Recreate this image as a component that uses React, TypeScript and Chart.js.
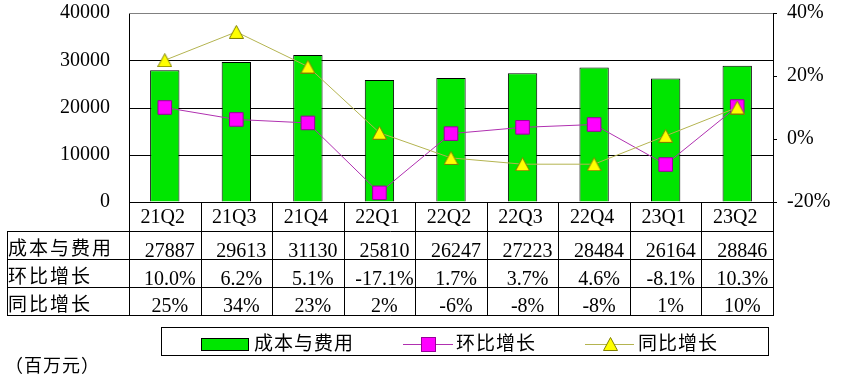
import React, { useEffect, useRef } from "react";
import { Chart, registerables } from "chart.js";

Chart.register(...registerables);

const categories = ["21Q2", "21Q3", "21Q4", "22Q1", "22Q2", "22Q3", "22Q4", "23Q1", "23Q2"];
const costValues = [27887, 29613, 31130, 25810, 26247, 27223, 28484, 26164, 28846];
const qoqValues = [10.0, 6.2, 5.1, -17.1, 1.7, 3.7, 4.6, -8.1, 10.3];
const yoyValues = [25, 34, 23, 2, -6, -8, -8, 1, 10];
const seriesNames = ["成本与费用", "环比增长", "同比增长"];
const costLabels = costValues.map((v) => String(v));
const qoqLabels = qoqValues.map((v) => v.toFixed(1) + "%");
const yoyLabels = yoyValues.map((v) => v + "%");
const unitLabel = "（百万元）";
const leftMin = 0;
const leftMax = 40000;
const leftStep = 10000;
const rightMin = -20;
const rightMax = 40;
const rightStep = 20;

const NUM_FONT = "'Liberation Serif', 'DejaVu Serif', serif";
const CJK_FONT = "'Noto Sans CJK SC', sans-serif";

function makeTriangle(): HTMLCanvasElement {
  const c = document.createElement("canvas");
  c.width = 15;
  c.height = 14;
  const g = c.getContext("2d")!;
  g.beginPath();
  g.moveTo(7.5, 0.5);
  g.lineTo(14.5, 13.5);
  g.lineTo(0.5, 13.5);
  g.closePath();
  g.fillStyle = "#FFFF00";
  g.fill();
  g.strokeStyle = "#808000";
  g.lineWidth = 1;
  g.stroke();
  return c;
}

export default function App() {
  const ref = useRef<HTMLCanvasElement | null>(null);

  useEffect(() => {
    document.body.style.margin = "0";
    const canvas = ref.current!;
    const tri = makeTriangle();

    const tablePlugin = {
      id: "dataTable",
      beforeDatasetsDraw(chart: any) {
        const { ctx, chartArea } = chart;
        const ys = chart.scales.y;
        ctx.save();
        ctx.lineWidth = 1;
        for (let v = leftMin; v <= leftMax; v += leftStep) {
          const y = Math.round(ys.getPixelForValue(v)) + 0.5;
          ctx.strokeStyle = v === leftMax ? "#808080" : "#000";
          ctx.beginPath();
          ctx.moveTo(chartArea.left, y);
          ctx.lineTo(chartArea.right, y);
          ctx.stroke();
        }
        ctx.restore();
      },
      afterDraw(chart: any) {
        const { ctx, chartArea } = chart;
        const n = categories.length;
        const left = chartArea.left;
        const right = chartArea.right;
        const colW = (right - left) / n;
        const top = chartArea.bottom;
        const tableLeft = 7;
        const rowB = [top + 29, top + 57, top + 85, top + 113];
        ctx.save();
        ctx.strokeStyle = "#000";
        ctx.lineWidth = 1;
        ctx.beginPath();
        for (let r = 0; r < rowB.length; r++) {
          const y = Math.round(rowB[r]) + 0.5;
          ctx.moveTo(tableLeft, y);
          ctx.lineTo(right + 0.5, y);
        }
        ctx.moveTo(tableLeft + 0.5, rowB[0]);
        ctx.lineTo(tableLeft + 0.5, rowB[3] + 1);
        for (let i = 0; i <= n; i++) {
          const x = Math.round(left + i * colW) + 0.5;
          ctx.moveTo(x, top);
          ctx.lineTo(x, rowB[3] + 1);
        }
        ctx.stroke();

        ctx.fillStyle = "#000";
        ctx.textBaseline = "alphabetic";
        ctx.textAlign = "center";
        ctx.font = "20px " + NUM_FONT;
        const rows = [costLabels, qoqLabels, yoyLabels];
        const baselines = [rowB[1] - 2, rowB[2] - 2, rowB[3] - 3];
        for (let i = 0; i < n; i++) {
          const cx = left + (i + 0.5) * colW;
          ctx.fillText(categories[i], cx - 2, rowB[0] - 8);
          for (let r = 0; r < 3; r++) {
            ctx.fillText(rows[r][i], cx + 5, baselines[r]);
          }
        }
        ctx.textAlign = "left";
        ctx.font = "19px " + CJK_FONT;
        (ctx as any).letterSpacing = "2px";
        ctx.fillText(seriesNames[0], 8, rowB[1] - 4);
        ctx.fillText(seriesNames[1], 8, rowB[2] - 4);
        ctx.fillText(seriesNames[2], 8, rowB[3] - 4);

        // legend
        (ctx as any).letterSpacing = "1px";
        ctx.strokeRect(161.5, 327.5, 607, 28);
        ctx.fillStyle = "#00E600";
        ctx.fillRect(201, 338, 48, 13);
        ctx.strokeRect(201.5, 338.5, 47, 12);
        ctx.fillStyle = "#000";
        ctx.font = "19px " + CJK_FONT;
        ctx.fillText(seriesNames[0], 254, 350);
        ctx.fillText(seriesNames[1], 456, 350);
        ctx.fillText(seriesNames[2], 638, 350);

        ctx.strokeStyle = "#B030B0";
        ctx.beginPath();
        ctx.moveTo(403, 344.5);
        ctx.lineTo(453, 344.5);
        ctx.stroke();
        ctx.fillStyle = "#FF00FF";
        ctx.fillRect(422, 338, 13, 13);
        ctx.strokeStyle = "#990099";
        ctx.strokeRect(421.5, 337.5, 14, 14);

        ctx.strokeStyle = "#B4B450";
        ctx.beginPath();
        ctx.moveTo(585, 344.5);
        ctx.lineTo(634, 344.5);
        ctx.stroke();
        ctx.drawImage(tri, 603, 337);

        ctx.fillStyle = "#000";
        ctx.font = "18px " + CJK_FONT;
        (ctx as any).letterSpacing = "1px";
        ctx.fillText(unitLabel, 5, 372);
        ctx.restore();
      },
    };

    const chart = new Chart(canvas, {
      type: "bar",
      data: {
        labels: categories,
        datasets: [
          {
            type: "bar",
            label: seriesNames[0],
            data: costValues,
            backgroundColor: "#00E600",
            borderColor: "#000",
            borderWidth: 1,
            yAxisID: "y",
            categoryPercentage: 1,
            barPercentage: 0.41,
            order: 3,
          } as any,
          {
            type: "line",
            label: seriesNames[1],
            data: qoqValues,
            borderColor: "#B030B0",
            borderWidth: 1,
            pointStyle: "rect",
            pointRadius: 9.6,
            pointBackgroundColor: "#FF00FF",
            pointBorderColor: "#990099",
            pointBorderWidth: 1,
            yAxisID: "y1",
            tension: 0,
            clip: false,
            order: 2,
          } as any,
          {
            type: "line",
            label: seriesNames[2],
            data: yoyValues,
            borderColor: "#B4B450",
            borderWidth: 1,
            pointStyle: tri,
            pointRadius: 8,
            yAxisID: "y1",
            tension: 0,
            clip: false,
            order: 1,
          } as any,
        ],
      },
      options: {
        responsive: false,
        animation: false,
        devicePixelRatio: 1,
        layout: { autoPadding: false, padding: { top: 13, bottom: 186, left: 0, right: 0 } },
        plugins: { legend: { display: false }, tooltip: { enabled: false } },
        scales: {
          x: { display: false, offset: true },
          y: {
            position: "left",
            min: leftMin,
            max: leftMax,
            ticks: {
              stepSize: leftStep,
              color: "#000",
              padding: 19,
              font: { family: NUM_FONT, size: 20 },
              callback: (v: any) => String(v),
            },
            grid: {
              drawTicks: false,
              drawOnChartArea: false,
            },
            border: { display: true, color: "#000" },
            afterFit: (s: any) => {
              s.width = 129;
              s.paddingTop = 0;
              s.paddingBottom = 0;
            },
          },
          y1: {
            position: "right",
            min: rightMin,
            max: rightMax,
            ticks: {
              stepSize: rightStep,
              color: "#000",
              padding: 10,
              font: { family: NUM_FONT, size: 20 },
              callback: (v: any) => v + "%",
            },
            grid: {
              drawOnChartArea: false,
              drawTicks: true,
              tickLength: 4,
              tickColor: "#000",
            },
            border: { display: true, color: "#000" },
            afterFit: (s: any) => {
              s.width = 75;
              s.paddingTop = 0;
              s.paddingBottom = 0;
            },
          },
        },
      },
      plugins: [tablePlugin],
    });
    return () => chart.destroy();
  }, []);

  return (
    <div style={{ width: 848, height: 388, background: "#fff" }}>
      <canvas ref={ref} width={848} height={388} style={{ display: "block" }} />
    </div>
  );
}
